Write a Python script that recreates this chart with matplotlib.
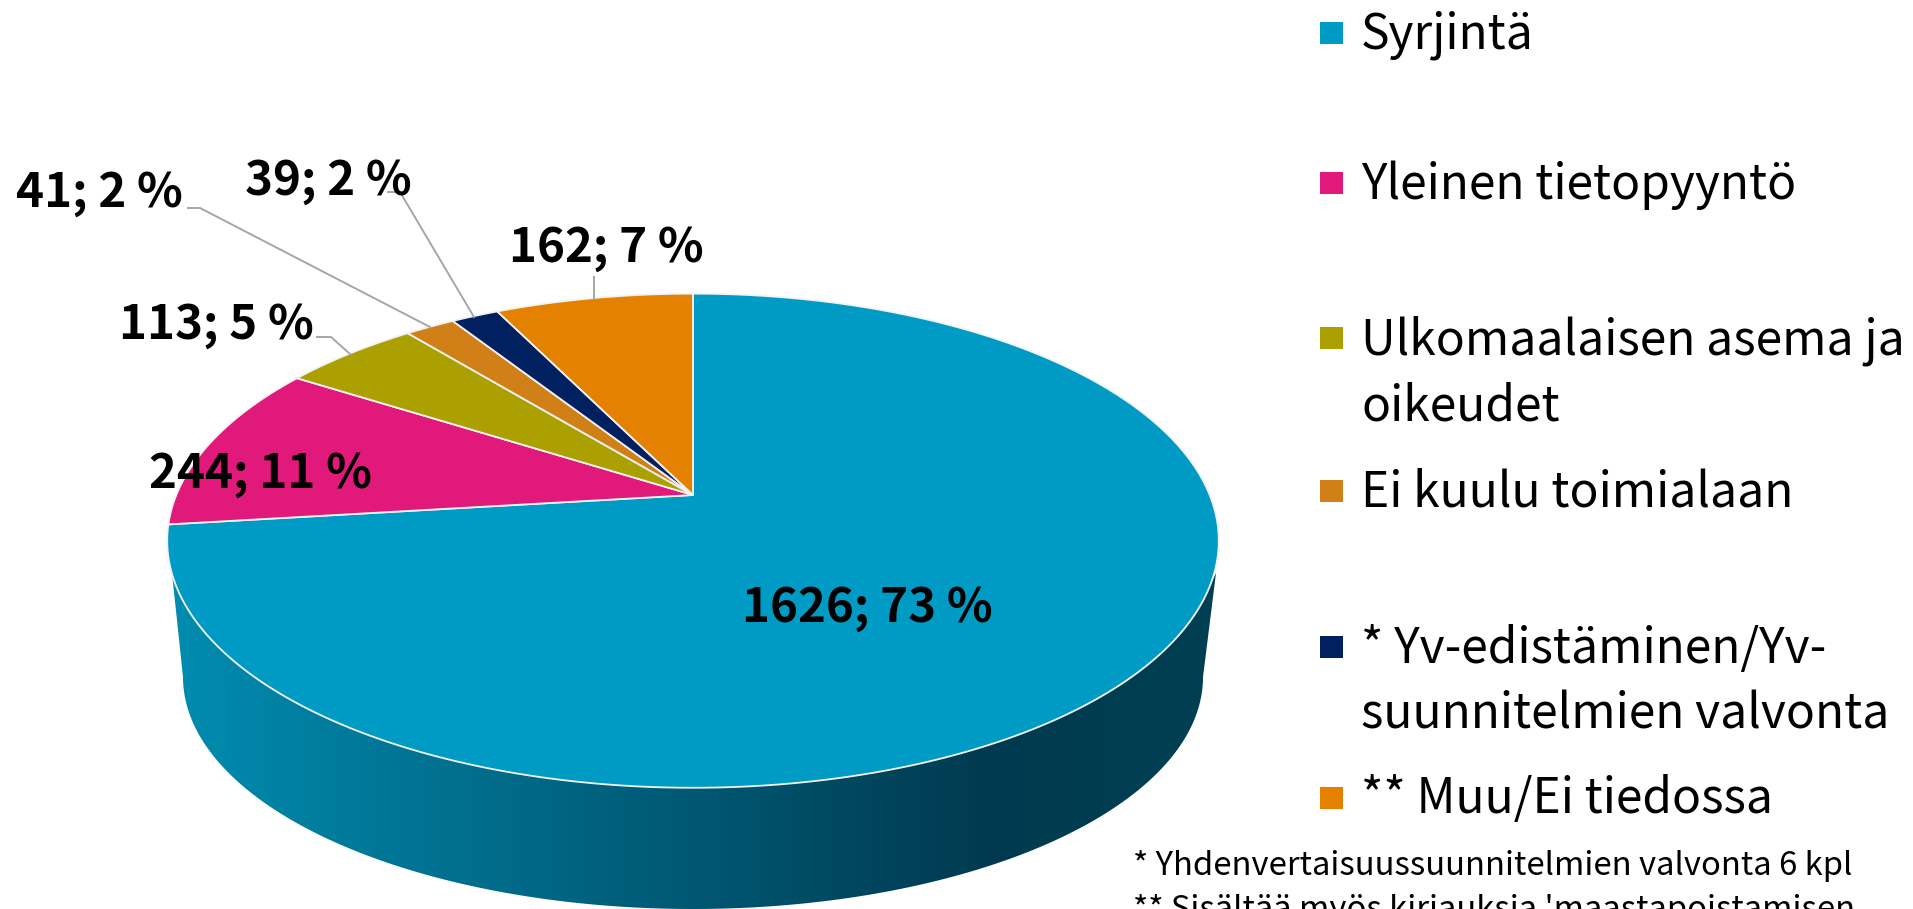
import numpy as np
import matplotlib
matplotlib.use('Agg')
import matplotlib.pyplot as plt
from matplotlib.patches import Polygon, Rectangle

categories = ['Syrjintä', 'Yleinen tietopyyntö', 'Ulkomaalaisen asema ja\noikeudet', 'Ei kuulu toimialaan',
	'* Yv-edistäminen/Yv-\nsuunnitelmien valvonta', '** Muu/Ei tiedossa']
values = [1626, 244, 113, 41, 39, 162]
percents = [73, 11, 5, 2, 2, 7]
colors = ['#009BC4', '#E0197A', '#ABA000', '#D18017', '#002060', '#E48100']
footnotes = ['* Yhdenvertaisuussuunnitelmien valvonta 6 kpl', "** Sisältää myös kirjauksia 'maastapoistamisen"]

# the CJK family carries Source Sans style latin letters, close to the original
plt.rcParams['font.family'] = ['Noto Sans CJK JP', 'DejaVu Sans']

W, H = 1913, 909
fig = plt.figure(figsize=(W / 100, H / 100), dpi=100)
ax = fig.add_axes([0, 0, 1, 1])
ax.set_xlim(0, W)
ax.set_ylim(H, 0)
ax.axis('off')

# pie top is a tilted circle, so the centre is not in the middle of the ellipse
CX, CY = 693, 495
PERSP = 0.185
AY = 238.6
AX = 516.7


def project(angle):
	u = np.sin(angle)
	v = np.cos(angle)
	d = 1 + PERSP * v
	return np.column_stack([CX + AX * u / d, CY - AY * v / d])


# side wall with gradient
t = np.linspace(0, np.pi, 200)
lowerRim = np.column_stack([693 + 510 * np.cos(t), 677 + 232 * np.sin(t)])
upperEdge = project(np.radians(np.linspace(249, 111, 200)))
wall = np.vstack([[[1216, 573]], lowerRim, [[172, 573]]])
wallPatch = Polygon(np.vstack([wall, upperEdge]), closed=True, fc='none', ec='none')
ax.add_patch(wallPatch)

stops = np.array([0.0, 0.78, 1.0])
rgbLeft = np.array([0, 140, 176]) / 255
rgbDark = np.array([0, 58, 80]) / 255
rgbRight = np.array([0, 64, 82]) / 255
xs = np.linspace(0, 1, 512)
grad = np.zeros((1, 512, 3))
for i in range(3):
	grad[0, :, i] = np.interp(xs, stops, [rgbLeft[i], rgbDark[i], rgbRight[i]])
img = ax.imshow(grad, extent=[172, 1216, 909, 480], aspect='auto', interpolation='bilinear', zorder=1)
img.set_clip_path(wallPatch)
ax.set_xlim(0, W)
ax.set_ylim(H, 0)

# top of the pie, slices run clockwise from 12 o'clock
total = sum(values)
start = 0
for val, col in zip(values, colors):
	end = start + val / total * 2 * np.pi
	rim = project(np.linspace(start, end, max(int(val), 12)))
	ax.add_patch(Polygon(np.vstack([[[CX, CY]], rim]), closed=True, fc=col, ec='#F2F2F2', lw=1.3, zorder=2, joinstyle='round'))
	start = end

# data labels
labelPos = [(867, 608), (260, 474), (216, 325), (99, 193), (328, 181), (606, 248)]
for val, pct, pos in zip(values, percents, labelPos):
	ax.text(pos[0], pos[1], '%d; %d %%' % (val, pct), ha='center', va='center', fontsize=34.2, fontweight='bold',
		color='black', zorder=5)

# leader lines
leaders = [
	[(317, 337), (331, 337), (350, 354)],
	[(188, 208), (200, 208), (430, 327)],
	[(388, 192), (400, 192), (474, 317)],
	[(594, 277), (594, 299)],
]
for pts in leaders:
	ax.plot([p[0] for p in pts], [p[1] for p in pts], color='#A6A6A6', lw=1.4, zorder=3)

# legend
legendY = [33, 183, 338, 491, 647, 798]
for label, col, y in zip(categories, colors, legendY):
	ax.add_patch(Rectangle((1320, y - 11), 23, 22, fc=col, ec='none', zorder=4))
	ax.text(1361, y - 23, label, ha='left', va='top', fontsize=34.5, color='black', linespacing=1.43, zorder=5)

ax.text(1133, 866, footnotes[0], ha='left', va='center', fontsize=23.6, color='black')
ax.text(1133, 910, footnotes[1], ha='left', va='center', fontsize=23.6, color='black')

fig.savefig('out.png', dpi=100)
